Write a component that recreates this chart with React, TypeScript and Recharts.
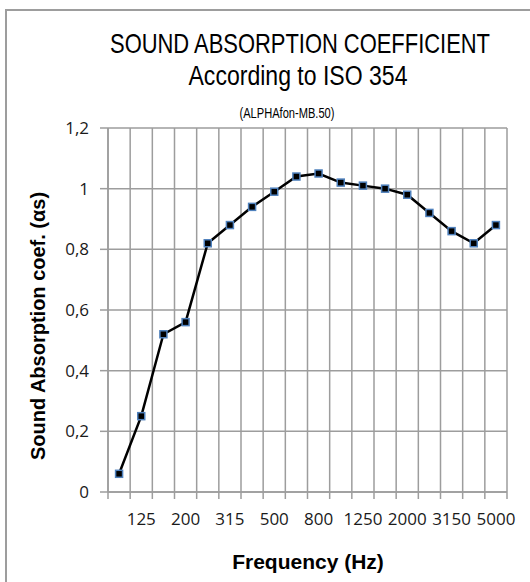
import { LineChart, Line, XAxis, YAxis, CartesianGrid } from 'recharts';

const frequencies = ['100', '125', '160', '200', '250', '315', '400', '500', '630', '800', '1000', '1250', '1600', '2000', '2500', '3150', '4000', '5000'];
const absorption = [0.06, 0.25, 0.52, 0.56, 0.82, 0.88, 0.94, 0.99, 1.04, 1.05, 1.02, 1.01, 1.0, 0.98, 0.92, 0.86, 0.82, 0.88];
const yTicks = [0, 0.2, 0.4, 0.6, 0.8, 1, 1.2];

const data = frequencies.map((f, i) => ({ pos: i + 0.5, freq: f, alpha: absorption[i] }));
const boundaryTicks = frequencies.map((_, i) => i).concat(frequencies.length);
const labelTicks = frequencies.map((_, i) => i + 0.5).filter((_, i) => i % 2 === 1);

const GRID = '#9d9d9d';
const tickFont = { fontFamily: '"Open Sans", sans-serif', fontSize: 17, fill: '#1a1a1a' };

const SquareDot = (props: any) => {
  const { cx, cy, index } = props;
  return <rect key={index} x={cx - 3.5} y={cy - 3.5} width={7} height={7} fill="#000" stroke="#4f81bd" strokeWidth={1.5} />;
};

export default function App() {
  return (
    <div style={{ position: 'absolute', top: 0, left: 0, width: 530, height: 582, background: '#fff', overflow: 'hidden' }}>
      <div style={{ position: 'absolute', left: 5, top: 9, width: 530, height: 582, borderTop: `2px solid ${GRID}`, borderLeft: `2px solid ${GRID}` }} />
      <LineChart width={530} height={582} data={data} margin={{ top: 128, right: 23, bottom: 0, left: 0 }}>
        <CartesianGrid xAxisId="grid" stroke={GRID} strokeWidth={1.5} />
        <XAxis
          xAxisId="grid"
          dataKey="pos"
          type="number"
          domain={[0, frequencies.length]}
          allowDataOverflow
          ticks={boundaryTicks}
          tickFormatter={() => ''}
          height={8}
          tickSize={7}
          stroke={GRID}
          strokeWidth={1.5}
        />
        <XAxis
          xAxisId="lab"
          dataKey="pos"
          type="number"
          domain={[0, frequencies.length]}
          allowDataOverflow
          ticks={labelTicks}
          tickFormatter={(v: number) => frequencies[v - 0.5]}
          height={82}
          tickSize={0}
          tickMargin={13}
          axisLine={false}
          tickLine={false}
          tick={tickFont}
          interval={0}
        />
        <YAxis
          domain={[0, 1.2]}
          ticks={yTicks}
          width={108}
          tickSize={8}
          tickMargin={11}
          stroke={GRID}
          strokeWidth={1.5}
          tick={tickFont}
          tickFormatter={(v: number) => String(Math.round(v * 10) / 10).replace('.', ',')}
        />
        <Line
          xAxisId="grid"
          dataKey="alpha"
          stroke="#000"
          strokeWidth={2.5}
          dot={SquareDot}
          activeDot={false}
          isAnimationActive={false}
        />
      </LineChart>
      <svg width={530} height={582} style={{ position: 'absolute', top: 0, left: 0, pointerEvents: 'none' }}>
        <g fontFamily='"Liberation Sans", Arial, sans-serif' fill="#000">
          {/* narrow title font: squeeze horizontally, stretch vertically */}
          <text x={0} y={0} fontSize={22} textAnchor="middle" textLength={380} lengthAdjust="spacingAndGlyphs" transform="translate(300 53) scale(1 1.22)">SOUND ABSORPTION COEFFICIENT</text>
          <text x={298} y={85} fontSize={27} textAnchor="middle" textLength={219} lengthAdjust="spacingAndGlyphs">According to ISO 354</text>
          <text x={287} y={118} fontSize={14} textAnchor="middle" textLength={95} lengthAdjust="spacingAndGlyphs">(ALPHAfon-MB.50)</text>
          <text x={308} y={569} fontSize={21} fontWeight="bold" textAnchor="middle">Frequency (Hz)</text>
          <text x={0} y={0} fontSize={20} fontWeight="bold" textAnchor="middle" transform="translate(45 326) rotate(-90)">Sound Absorption coef. (αs)</text>
        </g>
      </svg>
    </div>
  );
}
